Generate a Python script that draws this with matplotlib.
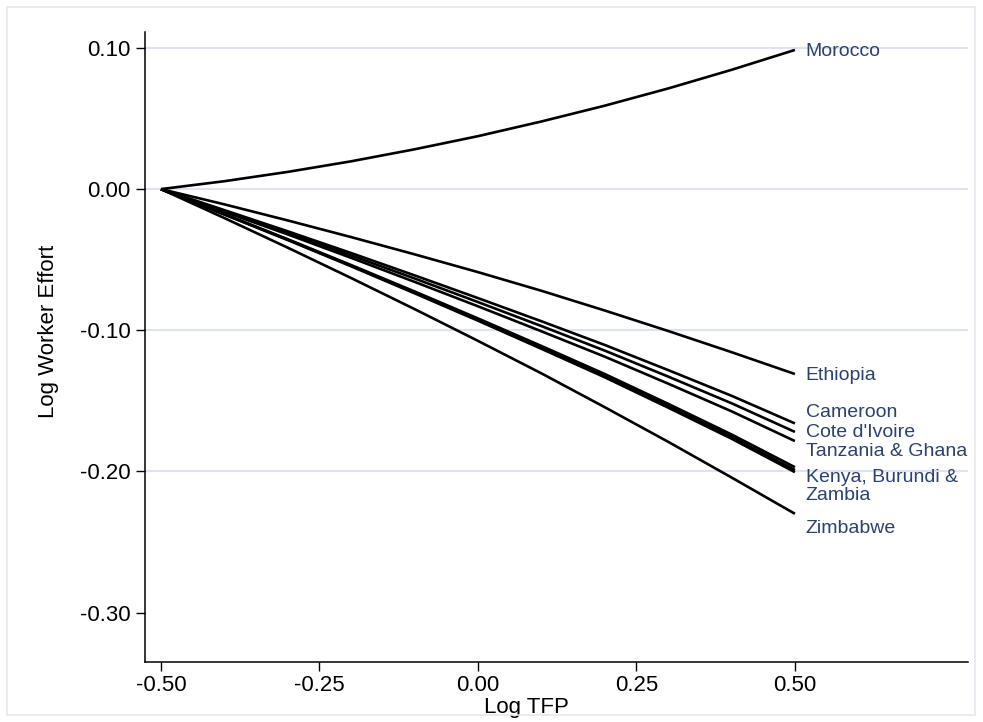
#!/usr/bin/env python3
"""
Log worker effort against log TFP, one line per country.
Stata-like look: black lines, light grid, navy end labels.
"""

import matplotlib
matplotlib.use('Agg')
import matplotlib.pyplot as plt
from matplotlib.patches import Rectangle

# Log TFP grid the curves were read at
log_tfp = [-0.5, -0.4, -0.3, -0.2, -0.1, 0.0, 0.1, 0.2, 0.3, 0.4, 0.5]

# Log worker effort per country
morocco = [0.0, 0.0056, 0.0122, 0.0197, 0.0282, 0.0375, 0.0479, 0.0591, 0.0713, 0.0845, 0.0986]
ethiopia = [0.0, -0.0108, -0.0222, -0.0340, -0.0462, -0.0588, -0.0720, -0.0860, -0.1005, -0.1155, -0.1310]
cameroon = [0.0, -0.0149, -0.0299, -0.0453, -0.0611, -0.0772, -0.0936, -0.1104, -0.1282, -0.1464, -0.1660]
cote_divoire = [0.0, -0.0155, -0.0310, -0.0470, -0.0633, -0.0800, -0.0970, -0.1144, -0.1328, -0.1517, -0.1720]
tanzania_ghana = [0.0, -0.0161, -0.0321, -0.0487, -0.0657, -0.0830, -0.1007, -0.1187, -0.1378, -0.1574, -0.1785]
kenya = [0.0, -0.0177, -0.0355, -0.0538, -0.0725, -0.0916, -0.1111, -0.1310, -0.1521, -0.1738, -0.1970]
burundi = [0.0, -0.0179, -0.0358, -0.0543, -0.0732, -0.0925, -0.1122, -0.1323, -0.1536, -0.1755, -0.1990]
zambia = [0.0, -0.0180, -0.0361, -0.0547, -0.0738, -0.0932, -0.1131, -0.1333, -0.1548, -0.1768, -0.2005]
zimbabwe = [0.0, -0.0205, -0.0415, -0.0630, -0.0850, -0.1075, -0.1305, -0.1545, -0.1790, -0.2043, -0.2300]

series = [morocco, ethiopia, cameroon, cote_divoire, tanzania_ghana,
          kenya, burundi, zambia, zimbabwe]

# End labels (Kenya, Burundi and Zambia share one label)
end_labels = ['Morocco', 'Ethiopia', 'Cameroon', "Cote d'Ivoire",
              'Tanzania & Ghana', 'Kenya, Burundi &\nZambia', 'Zimbabwe']

x_ticks = [-0.50, -0.25, 0.00, 0.25, 0.50]
y_ticks = [0.10, 0.00, -0.10, -0.20, -0.30]


def plot_effort_vs_tfp(output_file: str = 'out.png'):
    fig = plt.figure(figsize=(9.83, 7.22), dpi=100)
    plt.rcParams['font.family'] = ['Liberation Sans', 'DejaVu Sans']

    # light outer frame like the Stata graph region
    fig.patches.append(Rectangle((7 / 983, 7 / 722), 968 / 983, 708 / 722,
                                 transform=fig.transFigure, fill=False,
                                 edgecolor='#e4e7ef', linewidth=1.2))

    ax = fig.add_axes([145 / 983, 60 / 722, 823 / 983, 630 / 722])

    # horizontal grid lines
    for yv in y_ticks[:-1]:
        ax.axhline(yv, color='#dfe3ef', linewidth=1.5, zorder=1)

    for ys in series:
        ax.plot(log_tfp, ys, color='black', linewidth=1.9,
                solid_capstyle='butt', zorder=3)

    # label positions are nudged apart so they don't overlap
    label_y = [0.0977, -0.1317, -0.1586, -0.1721, -0.1862, -0.2107, -0.2401]
    for text, yl in zip(end_labels, label_y):
        ax.text(0.517, yl, text, color='#2b4170', fontsize=14,
                ha='left', va='center', linespacing=1.05)

    ax.set_xlim(-0.5252, 0.773)
    ax.set_ylim(-0.335, 0.1113)
    ax.set_xticks(x_ticks)
    ax.set_xticklabels([f'{v:.2f}' for v in x_ticks])
    ax.set_yticks(y_ticks)
    ax.set_yticklabels([f'{v:.2f}' for v in y_ticks])
    ax.tick_params(axis='both', direction='out', length=6.5, width=1.0,
                   labelsize=16, color='black')
    ax.tick_params(axis='y', pad=4)
    ax.tick_params(axis='x', pad=3)

    for side in ['top', 'right']:
        ax.spines[side].set_visible(False)
    for side in ['left', 'bottom']:
        ax.spines[side].set_linewidth(1.1)

    ax.set_xlabel('Log TFP', fontsize=16)
    ax.set_ylabel('Log Worker Effort', fontsize=16)
    ax.xaxis.set_label_coords(0.464, -0.056)
    ax.yaxis.set_label_coords(-0.105, 0.525)

    fig.savefig(output_file, dpi=100)
    print(f"Plot saved to {output_file}")


def main():
    plot_effort_vs_tfp()


if __name__ == '__main__':
    main()
